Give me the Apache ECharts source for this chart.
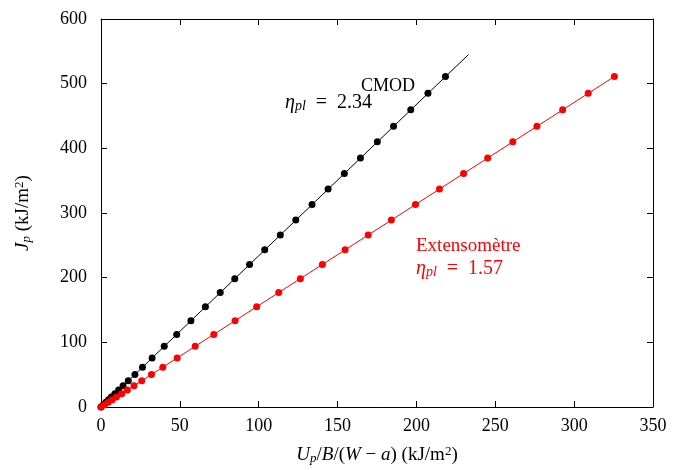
<!DOCTYPE html>
<html>
<head>
<meta charset="utf-8">
<script src="https://cdn.jsdelivr.net/npm/echarts@6/dist/echarts.min.js"></script>
<style>
html,body{margin:0;padding:0;background:#fff;}
#c{width:673px;height:470px;}
</style>
</head>
<body>
<div id="c"></div>
<script>
// Shared J_p values (kJ/m^2) of the measured points
const jValues = [0, 3.5, 7.2, 11.2, 15.4, 20.5, 26.2, 32.8, 40.5, 50.3, 61.5, 75.8, 93.8, 112.3, 133.4, 155, 177, 198.5, 220.5, 243, 266, 289, 313, 337, 361, 385, 410, 434, 459.5, 485, 511];
// x values, CMOD series
const cmodX = [0, 1.5, 3.1, 4.8, 6.6, 8.8, 11.2, 14.0, 17.3, 21.5, 26.3, 32.4, 40.1, 48.0, 57.0, 66.2, 75.6, 84.8, 94.2, 103.8, 113.7, 123.5, 133.8, 144.0, 154.3, 164.5, 175.2, 185.5, 196.4, 207.3, 218.4];
// x values, extensometer series
const extX = [0, 2.2, 4.6, 7.1, 9.8, 13.1, 16.7, 20.9, 25.8, 32.0, 39.2, 48.3, 59.7, 71.5, 85.0, 98.7, 112.7, 126.4, 140.4, 154.8, 169.4, 184.1, 199.4, 214.6, 229.9, 245.2, 261.1, 276.4, 292.7, 308.9, 325.5];
// CMOD fit line end points
const cmodFitX = [0, 233];
const cmodFitY = [0, 545];
// axis ticks
const xTicks = [0, 50, 100, 150, 200, 250, 300, 350];
const yTicks = [0, 100, 200, 300, 400, 500, 600];

const FONT = '"Liberation Serif", "DejaVu Serif", serif';
const cmodPts = cmodX.map((x, i) => [x, jValues[i]]);
const extPts = extX.map((x, i) => [x, jValues[i]]);
const fitPts = cmodFitX.map((x, i) => [x, cmodFitY[i]]);

const chart = echarts.init(document.getElementById('c'));
const axisCommon = {
  axisLine: {show: true, onZero: false, lineStyle: {color: '#000', width: 1}},
  axisTick: {show: true, inside: true, length: 6, lineStyle: {color: '#000'}},
  splitLine: {show: false}
};
const xMin = xTicks[0], xMax = xTicks[xTicks.length - 1], xInt = xTicks[1] - xTicks[0];
const yMin = yTicks[0], yMax = yTicks[yTicks.length - 1], yInt = yTicks[1] - yTicks[0];

function richSet(size, color) {
  return {
    i: {fontFamily: FONT, fontSize: size, fontStyle: 'italic', color: color},
    n: {fontFamily: FONT, fontSize: size, color: color},
    s: {fontFamily: FONT, fontSize: Math.round(size * 0.7), fontStyle: 'italic', color: color, verticalAlign: 'bottom', padding: [7, 0, 0, 0]},
    sup: {fontFamily: FONT, fontSize: Math.round(size * 0.7), color: color, verticalAlign: 'top', padding: [0, 0, 7, 0]}
  };
}
function richFill(size, color) {
  return {
    e: {fontFamily: FONT, fontSize: size, fontStyle: 'italic', fill: color},
    s: {fontFamily: FONT, fontSize: Math.round(size * 0.7), fontStyle: 'italic', fill: color, verticalAlign: 'bottom', padding: [7, 0, 0, 0]},
    n: {fontFamily: FONT, fontSize: size, fill: color}
  };
}

chart.setOption({
  animation: false,
  backgroundColor: '#fff',
  grid: {left: 101, right: 20, top: 19, bottom: 61},
  xAxis: [
    Object.assign({}, axisCommon, {
      type: 'value', min: xMin, max: xMax, interval: xInt, position: 'bottom',
      axisLabel: {color: '#000', fontFamily: FONT, fontSize: 18, margin: 10},
      name: '{i|U}{s|p}{n|/}{i|B}{n|/(}{i|W}{n| − }{i|a}{n|) (kJ/m}{sup|2}{n|)}',
      nameLocation: 'middle', nameGap: 38,
      nameTextStyle: {fontFamily: FONT, fontSize: 19, color: '#000', rich: richSet(19, '#000')}
    }),
    Object.assign({}, axisCommon, {
      type: 'value', min: xMin, max: xMax, interval: xInt, position: 'top',
      axisLabel: {show: false}
    })
  ],
  yAxis: [
    Object.assign({}, axisCommon, {
      type: 'value', min: yMin, max: yMax, interval: yInt, position: 'left',
      axisLabel: {color: '#000', fontFamily: FONT, fontSize: 18, margin: 14},
      name: '{i|J}{s|p}{n| (kJ/m}{sup|2}{n|)}',
      nameLocation: 'middle', nameGap: 68, nameRotate: 90,
      nameTextStyle: {fontFamily: FONT, fontSize: 19, color: '#000', rich: richSet(19, '#000')}
    }),
    Object.assign({}, axisCommon, {
      type: 'value', min: yMin, max: yMax, interval: yInt, position: 'right',
      axisLabel: {show: false}
    })
  ],
  series: [
    {
      type: 'line', data: fitPts, symbol: 'none', silent: true,
      lineStyle: {color: '#000', width: 1}, z: 2
    },
    {
      type: 'scatter', data: cmodPts, symbol: 'circle', symbolSize: 7,
      itemStyle: {color: '#000', opacity: 1}, z: 3
    },
    {
      type: 'line', data: extPts, symbol: 'circle', symbolSize: 7, showSymbol: true,
      lineStyle: {color: '#ff0000', width: 1}, itemStyle: {color: '#ff0000', opacity: 1}, z: 3
    }
  ],
  graphic: [
    {type: 'text', left: 361, top: 77, style: {text: 'CMOD', fill: '#000', font: '18px ' + FONT}},
    {type: 'text', left: 285, top: 93, style: {text: '{e|η}{s|pl}{n|  =  2.34}', fill: '#000', rich: richFill(20, '#000')}},
    {type: 'text', left: 416, top: 237, style: {text: 'Extensomètre', fill: '#ff0000', font: '19px ' + FONT}},
    {type: 'text', left: 416, top: 259, style: {text: '{e|η}{s|pl}{n|  =  1.57}', fill: '#ff0000', rich: richFill(20, '#ff0000')}}
  ]
});
</script>
</body>
</html>
